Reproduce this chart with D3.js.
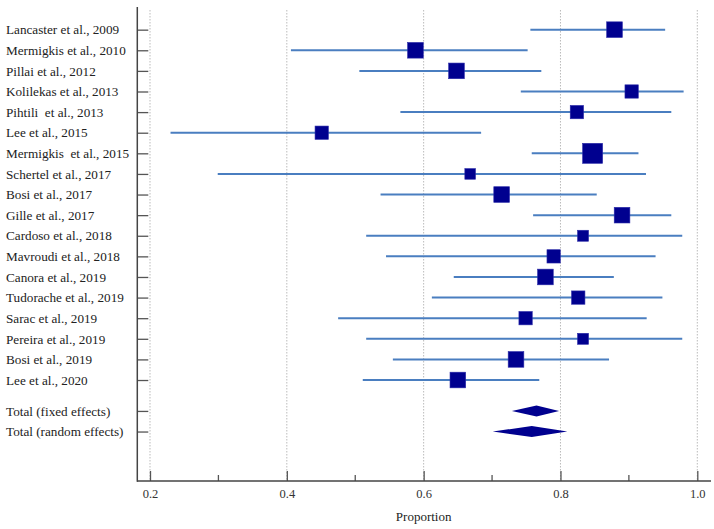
<!DOCTYPE html>
<html><head><meta charset="utf-8">
<script src="https://cdn.jsdelivr.net/npm/d3@7"></script>
<style>
body{margin:0;background:#fff;}
text{font-family:"Liberation Serif","DejaVu Serif",serif;white-space:pre;}
</style></head>
<body><svg id="chart" width="714" height="529"></svg>
<script>
const studies = ["Lancaster et al., 2009","Mermigkis et al., 2010","Pillai et al., 2012","Kolilekas et al., 2013","Pihtili  et al., 2013","Lee et al., 2015","Mermigkis  et al., 2015","Schertel et al., 2017","Bosi et al., 2017","Gille et al., 2017","Cardoso et al., 2018","Mavroudi et al., 2018","Canora et al., 2019","Tudorache et al., 2019","Sarac et al., 2019","Pereira et al., 2019","Bosi et al., 2019","Lee et al., 2020"];
const proportion = [0.879,0.588,0.648,0.904,0.824,0.451,0.847,0.668,0.714,0.890,0.833,0.790,0.778,0.826,0.749,0.833,0.735,0.650];
const ciLow  = [0.756,0.406,0.506,0.742,0.566,0.230,0.758,0.299,0.537,0.760,0.516,0.545,0.644,0.612,0.475,0.516,0.555,0.511];
const ciHigh = [0.953,0.752,0.772,0.980,0.962,0.684,0.914,0.925,0.853,0.962,0.978,0.939,0.878,0.949,0.926,0.978,0.871,0.769];
const weight = [6.5,6.5,6.5,4.7,4.7,4.7,10.6,3.0,6.5,6.5,3.2,4.7,6.5,4.7,4.7,3.2,6.5,6.5];
const totals = ["Total (fixed effects)","Total (random effects)"];
const totalEst = [0.765,0.758];
const totalLow = [0.729,0.701];
const totalHigh = [0.798,0.810];
const xTicks = [0.2,0.4,0.6,0.8,1.0];
const xMinorTicks = [0.3,0.5,0.7,0.9];

const svg = d3.select("#chart");
const x = d3.scaleLinear().domain([0.2,1.0]).range([150,697.3]);
const y = d3.scaleLinear().domain([-1.1,21.9]).range([7,481]);
const size = d3.scaleSqrt().domain([0,10.6]).range([0,20]);
const rowPos = studies.map((d,i)=>i).concat([18.5,19.5]);
const allLabels = studies.concat(totals);

// grid
svg.append("g").selectAll("line").data(xTicks).join("line")
  .attr("x1",d=>x(d)).attr("x2",d=>x(d)).attr("y1",10).attr("y2",481)
  .attr("stroke","#bbb").attr("stroke-width",1).attr("stroke-dasharray","1.5,1.5");

// x axis
const xAxis = d3.axisBottom(x).tickValues(xTicks).tickFormat(d3.format(".1f")).tickSizeInner(-10).tickSizeOuter(0).tickPadding(8);
const gx = svg.append("g").attr("transform","translate(0,481)").call(xAxis);
gx.select(".domain").remove();
gx.selectAll(".tick line").attr("stroke","#555").attr("stroke-width",1.3);
gx.selectAll(".tick text").attr("font-size",12.5).attr("fill","#333").attr("font-family","Liberation Serif, serif");
svg.append("g").selectAll("line").data(xMinorTicks).join("line")
  .attr("x1",d=>x(d)).attr("x2",d=>x(d)).attr("y1",475).attr("y2",481)
  .attr("stroke","#555").attr("stroke-width",1.3);
svg.append("line").attr("x1",137).attr("x2",711).attr("y1",481).attr("y2",481).attr("stroke","#444").attr("stroke-width",1.5);

// y axis
const yAxis = d3.axisLeft(y).tickValues(rowPos).tickFormat((d,i)=>allLabels[i]).tickSizeInner(-11).tickSizeOuter(0).tickPadding(0);
const gy = svg.append("g").attr("transform","translate(137.3,0)").call(yAxis);
gy.select(".domain").remove();
gy.selectAll(".tick line").attr("stroke","#555").attr("stroke-width",1.3);
gy.selectAll(".tick text").attr("x",-131.3).attr("text-anchor","start").attr("font-size",13.2).attr("fill","#222")
  .attr("font-family","Liberation Serif, serif").attr("xml:space","preserve").style("white-space","pre");
svg.append("line").attr("x1",137.3).attr("x2",137.3).attr("y1",7).attr("y2",481.7).attr("stroke","#444").attr("stroke-width",1.5);

// CI lines
svg.append("g").selectAll("line").data(studies).join("line")
  .attr("x1",(d,i)=>x(ciLow[i])).attr("x2",(d,i)=>x(ciHigh[i]))
  .attr("y1",(d,i)=>y(i)).attr("y2",(d,i)=>y(i))
  .attr("stroke","#4a7ec0").attr("stroke-width",2);

// squares
svg.append("g").selectAll("rect").data(studies).join("rect")
  .attr("x",(d,i)=>x(proportion[i])-size(weight[i])/2)
  .attr("y",(d,i)=>y(i)-size(weight[i])/2)
  .attr("width",(d,i)=>size(weight[i])).attr("height",(d,i)=>size(weight[i]))
  .attr("fill","#00008f").attr("stroke","#2a2aa8").attr("stroke-width",0.6);

// diamonds
svg.append("g").selectAll("path").data(totals).join("path")
  .attr("d",(d,i)=>{
    const yy=y(rowPos[18+i]), h=5.5;
    return `M${x(totalLow[i])},${yy} L${x(totalEst[i])},${yy-h} L${x(totalHigh[i])},${yy} L${x(totalEst[i])},${yy+h} Z`;
  })
  .attr("fill","#00008f");

// axis title
svg.append("text").attr("x",x(0.6)).attr("y",521).attr("text-anchor","middle")
  .attr("font-size",13).attr("fill","#222").text("Proportion");
</script></body></html>
